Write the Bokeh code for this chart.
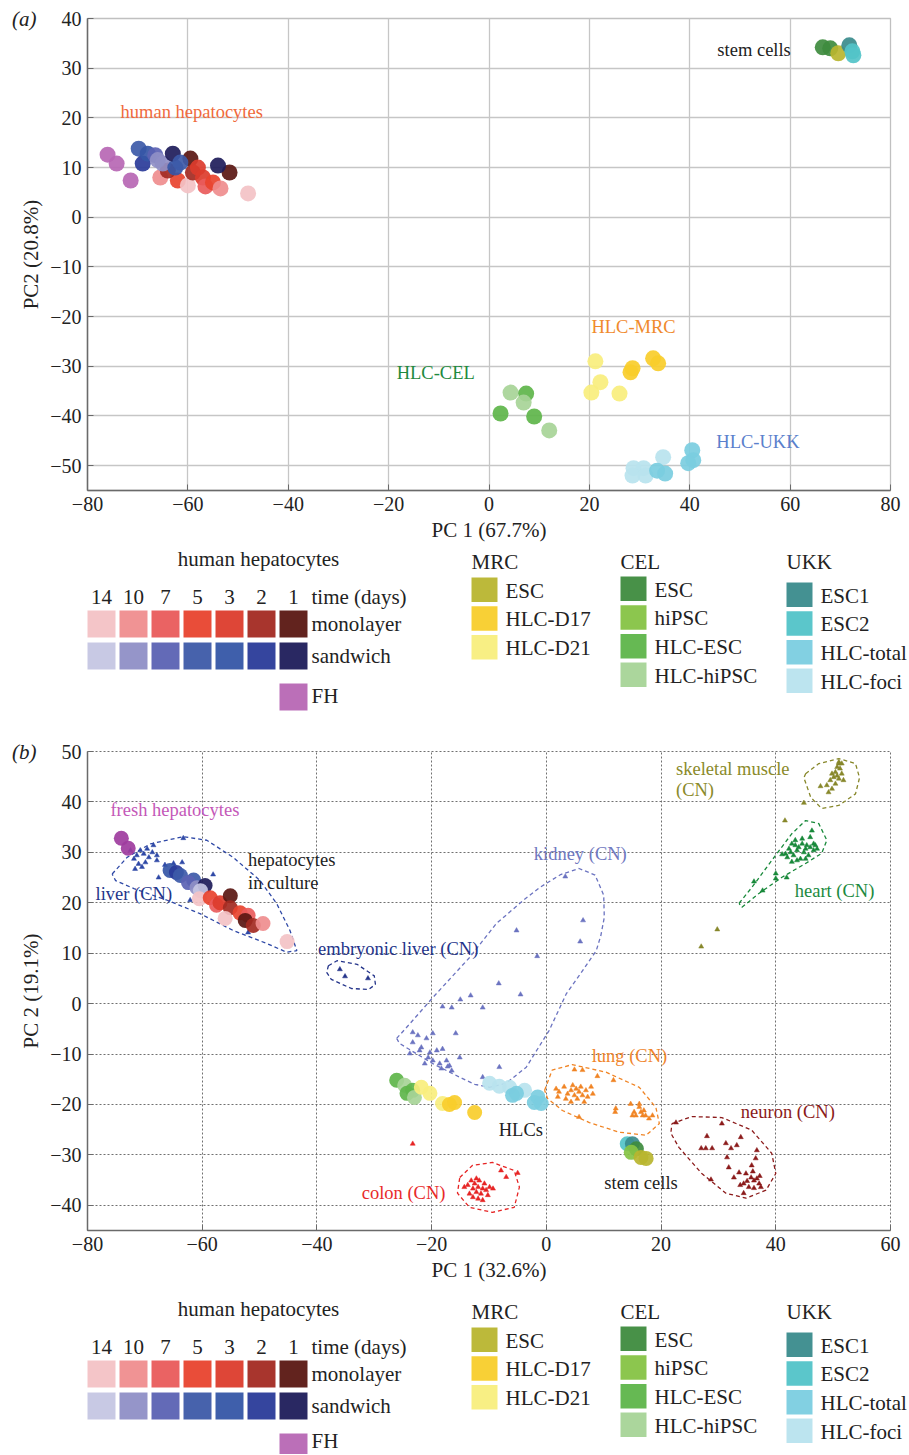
from bokeh.plotting import figure
from bokeh.models import (Range1d, FixedTicker, ColumnDataSource, CustomJSTickFormatter,
                          LinearAxis, Plot)
from bokeh.layouts import column
from bokeh.embed import file_html
from bokeh.resources import INLINE
from bokeh.core.properties import value

FONT = "Liberation Serif"
W = 909
BL, BR = 87, 19          # left / right borders of the two scatter panels

# ---------------- categories / legend ----------------
HEP_DAYS = ["14", "10", "7", "5", "3", "2", "1"]
HEP_ROWS = ["monolayer", "sandwich"]
MRC_GROUP = ["ESC", "HLC-D17", "HLC-D21"]
CEL_GROUP = ["ESC", "hiPSC", "HLC-ESC", "HLC-hiPSC"]
UKK_GROUP = ["ESC1", "ESC2", "HLC-total", "HLC-foci"]

MONO_COLORS = ["#f3c2c5", "#ef8d8e", "#e95b5b", "#e8432e", "#dc3c2c", "#a32a22", "#5a1712"]
SAND_COLORS = ["#c5c6e3", "#8f8fc6", "#5b62b3", "#3d5aa8", "#3556a6", "#2a3b99", "#1e1c5a"]
FH_COLOR = "#b767b4"
FH_B_COLOR = "#9e3c9e"
MRC_COLORS = ["#b8b52f", "#f8cd2b", "#f8ee7d"]
CEL_COLORS = ["#3e8b3e", "#86c344", "#5eb54a", "#a7d497"]
UKK_COLORS = ["#3a8b8c", "#52c3c8", "#7bcde0", "#b8e3ee"]

COLOR = {"FH": FH_COLOR, "FHb": FH_B_COLOR}
for d, c in zip(HEP_DAYS, MONO_COLORS):
    COLOR["M" + d] = c
for d, c in zip(HEP_DAYS, SAND_COLORS):
    COLOR["S" + d] = c
for n, c in zip(MRC_GROUP, MRC_COLORS):
    COLOR["MRC " + n] = c
for n, c in zip(CEL_GROUP, CEL_COLORS):
    COLOR["CEL " + n] = c
for n, c in zip(UKK_GROUP, UKK_COLORS):
    COLOR["UKK " + n] = c

# ---------------- panel (a) data ----------------
A_HEPATOCYTES = [
    (-76.0, 12.6, "FH"), (-74.2, 10.8, "FH"), (-71.4, 7.4, "FH"),
    (-65.5, 8.0, "M10"), (-62.0, 7.4, "M5"), (-60.0, 6.4, "M14"), (-64.0, 9.4, "M2"),
    (-69.8, 13.8, "S5"), (-69.0, 10.8, "S2"), (-68.0, 12.8, "S3"), (-66.5, 12.5, "S7"),
    (-66.0, 11.5, "S10"), (-65.0, 10.8, "S10"), (-62.5, 10.0, "S3"),
    (-59.5, 11.8, "M1"), (-59.0, 9.0, "M2"), (-58.0, 10.0, "M3"), (-57.0, 8.0, "M3"),
    (-56.5, 6.2, "M7"), (-55.0, 7.0, "M5"), (-53.5, 5.8, "M10"), (-51.7, 9.0, "M1"),
    (-48.0, 4.8, "M14"), (-63.0, 12.8, "S1"), (-61.5, 11.0, "S5"), (-54.0, 10.4, "S1"),
]
A_STEM = [
    (66.5, 34.2, "CEL ESC"), (68.0, 34.0, "CEL ESC"), (69.6, 33.0, "MRC ESC"),
    (71.8, 34.6, "UKK ESC1"), (72.4, 33.4, "UKK ESC2"), (72.6, 32.6, "UKK ESC2"),
]
A_HLC = [
    (4.3, -35.3, "CEL HLC-hiPSC"), (7.4, -35.5, "CEL HLC-ESC"), (6.9, -37.3, "CEL HLC-hiPSC"),
    (2.3, -39.5, "CEL HLC-ESC"), (9.0, -40.1, "CEL HLC-ESC"), (12.0, -42.9, "CEL HLC-hiPSC"),
    (21.2, -29.0, "MRC HLC-D21"), (22.2, -33.2, "MRC HLC-D21"), (20.4, -35.3, "MRC HLC-D21"),
    (26.0, -35.5, "MRC HLC-D21"), (28.2, -31.2, "MRC HLC-D17"), (28.6, -30.4, "MRC HLC-D17"),
    (32.7, -28.4, "MRC HLC-D17"), (33.7, -29.4, "MRC HLC-D17"),
    (28.8, -50.5, "UKK HLC-foci"), (30.8, -50.5, "UKK HLC-foci"), (28.6, -52.0, "UKK HLC-foci"),
    (31.2, -52.0, "UKK HLC-foci"), (34.7, -48.3, "UKK HLC-foci"), (33.5, -51.0, "UKK HLC-total"),
    (35.1, -51.6, "UKK HLC-total"), (40.5, -46.9, "UKK HLC-total"), (40.7, -48.9, "UKK HLC-total"),
    (39.7, -49.5, "UKK HLC-total"),
]
A_LABELS = ["human hepatocytes", "stem cells", "HLC-MRC", "HLC-CEL", "HLC-UKK"]
A_LABEL_POS = [(-73.4, 21.1), (45.5, 33.6), (20.4, -22.0), (-18.4, -31.4), (45.3, -45.3)]
A_LABEL_COLORS = ["#f06a3c", "#222222", "#f08a2c", "#1e8a3e", "#5a80cc"]

# ---------------- panel (b) data ----------------
B_HEPATOCYTES = [
    (-74.1, 32.8, "FHb"), (-72.9, 30.8, "FHb"),
    (-65.6, 26.4, "S3"), (-64.5, 26.0, "S2"), (-63.8, 25.4, "S5"), (-61.5, 24.5, "S5"),
    (-62.4, 24.0, "S7"), (-60.9, 23.0, "S10"), (-59.5, 23.4, "S1"), (-60.3, 22.4, "S14"),
    (-60.5, 20.8, "M14"), (-58.6, 21.0, "M5"), (-57.5, 19.5, "M7"), (-56.9, 20.0, "M3"),
    (-55.1, 21.4, "M1"), (-55.1, 19.0, "M2"), (-56.0, 16.9, "M14"), (-53.4, 18.0, "M5"),
    (-52.0, 17.5, "M7"), (-52.5, 16.5, "M1"), (-51.1, 15.5, "M2"), (-49.4, 15.9, "M10"),
    (-45.2, 12.3, "M14"),
]
B_HLC = [
    (-26.1, -15.2, "CEL HLC-ESC"), (-24.7, -16.2, "CEL HLC-hiPSC"), (-24.3, -17.8, "CEL HLC-ESC"),
    (-23.3, -17.2, "CEL HLC-ESC"), (-23.0, -18.6, "CEL HLC-hiPSC"),
    (-21.8, -16.6, "MRC HLC-D21"), (-20.3, -17.8, "MRC HLC-D21"), (-18.1, -19.8, "MRC HLC-D21"),
    (-16.9, -20.0, "MRC HLC-D17"), (-16.0, -19.6, "MRC HLC-D17"), (-12.5, -21.6, "MRC HLC-D17"),
    (-9.9, -15.8, "UKK HLC-foci"), (-8.2, -16.4, "UKK HLC-foci"), (-6.4, -16.6, "UKK HLC-foci"),
    (-3.8, -17.2, "UKK HLC-foci"), (-5.9, -18.2, "UKK HLC-total"), (-5.2, -17.8, "UKK HLC-total"),
    (-2.1, -19.6, "UKK HLC-total"), (-1.5, -18.5, "UKK HLC-total"), (-0.9, -19.8, "UKK HLC-total"),
]
B_STEM = [
    (14.1, -27.8, "UKK ESC2"), (15.0, -27.8, "UKK ESC1"), (15.7, -28.8, "CEL ESC"),
    (14.8, -29.5, "CEL hiPSC"), (16.5, -30.5, "MRC ESC"), (17.4, -30.7, "MRC ESC"),
]

# CN tissue samples (small triangles)
LIVER_CN = [(-71.4, 29.4), (-70.8, 30.4), (-70.2, 29.7), (-69.6, 30.7), (-69.3, 29.0), (-71.9, 28.7),
            (-71.1, 27.7), (-69.9, 28.0), (-68.7, 30.0), (-67.9, 29.4), (-68.5, 31.4), (-70.5, 27.1),
            (-71.7, 26.7), (-72.5, 30.4), (-67.9, 28.4), (-63.3, 32.8), (-63.5, 28.0), (-58.1, 25.6),
            (-52.0, 14.1), (-62.1, 20.5), (-67.6, 25.0), (-66.5, 27.5), (-65.0, 27.8)]
EMBRYONIC_LIVER_CN = [(-36.0, 6.8), (-35.1, 5.4), (-31.1, 5.0)]
KIDNEY_CN = [(3.3, 25.2), (6.4, 16.5), (5.9, 12.3), (-5.2, 14.5), (-1.6, 9.4), (-8.3, 4.0),
             (-13.2, 1.6), (-4.5, 1.8), (-15.0, 0.8), (-11.1, -0.8), (-16.5, -0.8), (-18.1, -0.6),
             (-15.8, -5.9), (-8.2, -12.6), (-11.1, -14.6), (-15.1, -10.7), (-18.1, -9.0),
             (-16.9, -12.3), (-17.4, -11.3), (-23.3, -5.7), (-22.4, -6.3), (-20.9, -6.9),
             (-19.8, -5.9), (-23.3, -7.7), (-21.8, -8.7), (-20.3, -9.7), (-19.1, -9.3),
             (-20.6, -10.7), (-19.8, -11.3), (-18.6, -11.9), (-17.2, -12.5), (-16.5, -13.3),
             (-18.3, -12.9), (-23.8, -9.9), (-21.2, -11.9), (-22.1, -9.3)]
LUNG_CN = [(1.7, -16.9), (2.2, -17.5), (3.1, -16.5), (3.7, -17.9), (4.3, -17.2), (4.6, -16.2),
           (4.9, -18.2), (5.2, -16.9), (5.4, -18.9), (5.7, -17.5), (6.0, -16.5), (6.3, -18.2),
           (6.6, -19.5), (6.9, -17.2), (7.2, -18.5), (7.8, -16.5), (8.1, -17.9), (3.4, -18.9),
           (4.3, -19.5), (2.0, -18.5), (5.7, -22.5), (4.9, -13.1), (6.3, -13.2), (8.9, -14.4),
           (11.7, -15.2), (12.1, -20.8), (12.0, -21.5), (14.7, -19.9), (15.3, -21.5),
           (15.6, -22.2), (16.2, -20.5), (16.5, -21.5), (16.8, -22.2), (17.0, -21.2),
           (17.3, -22.2), (17.9, -22.8), (15.0, -22.2), (16.2, -19.9), (18.5, -22.2)]
COLON_CN = [(-13.7, -36.0), (-13.1, -35.1), (-12.8, -36.7), (-12.5, -35.7), (-12.2, -37.4),
            (-11.9, -36.4), (-11.7, -35.1), (-11.4, -37.7), (-11.1, -36.7), (-10.8, -35.7),
            (-10.5, -37.0), (-10.2, -38.0), (-9.9, -36.4), (-9.3, -36.7), (-13.4, -37.7),
            (-12.8, -38.4), (-11.9, -38.7), (-11.1, -39.0), (-12.2, -34.7), (-14.3, -36.4),
            (-7.9, -33.1), (-7.0, -34.4), (-5.0, -33.6), (-23.3, -27.8)]
NEURON_CN = [(22.6, -23.6), (28.0, -26.3), (30.6, -23.8), (27.0, -28.7), (27.8, -28.7), (28.9, -28.7),
             (31.3, -27.7), (33.2, -28.1), (33.9, -26.5), (32.2, -28.7), (28.7, -34.9), (31.5, -30.5),
             (36.7, -29.1), (36.5, -30.7), (35.8, -32.1), (31.8, -32.5), (32.7, -34.5), (34.4, -35.7),
             (36.2, -35.1), (37.1, -35.7), (37.4, -36.4), (35.3, -36.4), (34.4, -37.6), (36.2, -36.6),
             (33.6, -33.5), (34.8, -33.7), (35.7, -34.5), (36.7, -34.7), (35.0, -35.2), (33.8, -36.0),
             (36.0, -33.3), (37.2, -34.2)]
HEART_CN = [(41.7, 29.7), (42.3, 30.7), (42.8, 31.7), (43.1, 29.4), (43.4, 32.4), (43.7, 30.4),
            (44.0, 31.0), (44.3, 28.7), (44.6, 31.7), (44.9, 30.0), (45.2, 30.7), (45.4, 31.4),
            (45.7, 29.4), (46.0, 31.0), (46.3, 34.3), (46.6, 31.7), (46.9, 31.4), (47.2, 30.7),
            (42.8, 28.1), (43.7, 28.4), (42.0, 29.0), (45.2, 28.7), (46.0, 33.0), (46.6, 30.4),
            (44.6, 32.7), (43.4, 31.4), (42.6, 30.0), (41.1, 29.6), (36.2, 24.2), (37.7, 22.4),
            (40.0, 25.8), (40.0, 24.8), (41.9, 25.0)]
SKELETAL_MUSCLE_CN = [(51.0, 47.6), (50.7, 46.9), (51.2, 46.6), (50.4, 45.9), (51.5, 45.6), (50.1, 44.9),
                      (51.0, 44.6), (49.5, 44.3), (51.8, 44.3), (50.4, 43.6), (48.9, 43.3), (49.8, 42.6),
                      (49.2, 41.9), (47.8, 43.1), (51.0, 47.9), (51.5, 47.6), (50.7, 45.2), (49.8, 45.6),
                      (44.9, 39.8), (41.6, 36.3), (29.8, 14.7), (27.0, 11.3)]

# dashed outlines drawn around each CN tissue group (vertices)
LIVER_HULL = [(-75.7, 25.7), (-73.1, 29.0), (-69.0, 31.7), (-63.3, 33.1), (-59.2, 32.4), (-54.6, 29.0),
              (-49.9, 24.4), (-47.0, 19.8), (-44.7, 14.5), (-43.5, 10.5), (-45.3, 10.2), (-48.7, 11.9),
              (-54.6, 14.5), (-60.3, 17.8), (-66.1, 20.5), (-71.9, 22.8), (-75.1, 24.4)]
EMBRYONIC_HULL = [(-38.0, 7.5), (-36.5, 8.5), (-33.0, 7.8), (-30.0, 5.5), (-29.8, 3.8), (-31.0, 2.8),
                  (-34.0, 3.0), (-37.5, 4.8), (-38.3, 6.2)]
KIDNEY_HULL = [(-26.1, -6.9), (-23.8, -4.0), (-19.8, 1.2), (-13.5, 9.0), (-8.7, 15.9), (-4.0, 20.5),
               (-1.2, 23.0), (2.5, 25.6), (5.7, 26.8), (8.5, 25.5), (10.0, 21.5), (10.1, 17.1),
               (9.5, 13.5), (8.7, 10.5), (6.0, 6.0), (3.5, 2.0), (0.5, -5.3), (-3.5, -12.6),
               (-7.0, -15.8), (-9.9, -16.6), (-12.5, -16.0), (-15.1, -14.6), (-19.8, -11.9),
               (-25.6, -7.9)]
LUNG_HULL = [(-0.3, -17.2), (1.0, -13.2), (4.5, -12.1), (10.4, -13.6), (16.2, -16.6), (19.1, -20.6),
             (19.7, -23.8), (17.4, -26.1), (12.7, -25.5), (7.5, -23.6), (2.8, -21.2), (0.2, -18.8)]
COLON_HULL = [(-15.1, -34.5), (-12.9, -32.1), (-9.4, -31.5), (-5.6, -33.1), (-4.7, -36.4),
              (-5.6, -40.4), (-9.4, -41.4), (-13.4, -40.4), (-15.5, -37.6)]
NEURON_HULL = [(21.9, -23.8), (25.4, -22.4), (30.6, -22.6), (35.8, -25.1), (39.3, -29.7), (40.0, -33.7),
               (38.3, -37.0), (34.8, -38.6), (31.3, -37.6), (27.1, -33.7), (23.1, -28.5), (21.7, -25.7)]
HEART_HULL = [(33.6, 19.9), (35.8, 23.0), (39.3, 28.4), (42.8, 33.7), (45.2, 36.3), (47.5, 35.7),
              (48.9, 32.4), (48.0, 29.8), (45.2, 27.8), (41.0, 25.0), (37.0, 21.8), (34.1, 19.1)]
SKELETAL_HULL = [(45.2, 45.6), (47.5, 47.6), (51.0, 48.6), (53.9, 47.6), (54.6, 44.8), (53.9, 41.6),
                 (51.0, 39.3), (48.0, 38.7), (46.1, 40.9), (44.9, 44.8)]

B_LABELS = ["fresh hepatocytes", "liver (CN)", "hepatocytes", "in culture", "embryonic liver (CN)",
            "kidney (CN)", "skeletal muscle", "(CN)", "heart (CN)", "lung (CN)", "neuron (CN)",
            "colon (CN)", "HLCs", "stem cells"]
B_LABEL_POS = [(-76.0, 38.3), (-78.6, 21.8), (-52.0, 28.4), (-52.0, 23.9), (-39.8, 10.9),
               (-2.2, 29.7), (22.6, 46.6), (22.6, 42.3), (43.3, 22.3), (7.9, -10.3), (33.9, -21.5),
               (-32.2, -37.6), (-8.3, -25.0), (10.1, -35.6)]
B_LABEL_COLORS = ["#c458b8", "#24348a", "#222222", "#222222", "#24348a", "#7078c0", "#8a8a2a",
                  "#8a8a2a", "#1b8a3e", "#f0842a", "#8b1a1a", "#e82a2a", "#222222", "#222222"]

TISSUES = [
    (LIVER_CN, LIVER_HULL, "#2e48a6"),
    (EMBRYONIC_LIVER_CN, EMBRYONIC_HULL, "#24348a"),
    (KIDNEY_CN, KIDNEY_HULL, "#6b73c0"),
    (LUNG_CN, LUNG_HULL, "#f08424"),
    (COLON_CN, COLON_HULL, "#e62424"),
    (NEURON_CN, NEURON_HULL, "#8b1a1a"),
    (HEART_CN, HEART_HULL, "#18893a"),
    (SKELETAL_MUSCLE_CN, SKELETAL_HULL, "#87872a"),
]

HAS_FRAME_ALIGN = hasattr(Plot, "frame_align")


def minus_fmt():
    return CustomJSTickFormatter(code="return tick < 0 ? '\\u2212' + (-tick) : String(tick);")


def style_axes(p, xt, yt, dotted):
    p.xaxis.ticker = FixedTicker(ticks=xt)
    p.yaxis.ticker = FixedTicker(ticks=yt)
    p.xgrid.ticker = FixedTicker(ticks=xt)
    p.ygrid.ticker = FixedTicker(ticks=yt)
    p.xaxis.formatter = minus_fmt()
    p.yaxis.formatter = minus_fmt()
    p.axis.major_label_text_font = FONT
    p.axis.major_label_text_font_size = "20px"
    p.axis.major_label_text_color = "#222222"
    p.axis.axis_label_text_font = FONT
    p.axis.axis_label_text_font_size = "21px"
    p.axis.axis_label_text_font_style = "normal"
    p.axis.axis_label_text_color = "#222222"
    p.axis.axis_line_color = "#6a6a6a"
    p.axis.axis_line_width = 1.5
    p.axis.major_tick_in = 6
    p.axis.major_tick_out = 0
    p.axis.major_tick_line_color = "#6a6a6a"
    p.axis.minor_tick_line_color = None
    p.axis.major_label_standoff = 6
    p.axis.axis_label_standoff = 4
    if dotted:
        p.grid.grid_line_color = "#707070"
        p.grid.grid_line_dash = "2 2"
        p.grid.grid_line_width = 1
        p.outline_line_color = "#707070"
        p.outline_line_dash = "2 2"
    else:
        p.grid.grid_line_color = "#c6c6c6"
        p.grid.grid_line_width = 1.3
        p.outline_line_color = "#c0c0c0"
        p.outline_line_width = 1.3


def panel_tag(p, letter, ytop):
    # an outer, line-less left axis whose single tick label is the panel letter
    ax = LinearAxis(ticker=FixedTicker(ticks=[ytop]),
                    formatter=CustomJSTickFormatter(code="return '(%s)';" % letter),
                    axis_line_color=None, major_tick_line_color=None, minor_tick_line_color=None,
                    major_tick_in=0, major_tick_out=0, major_label_standoff=-20,
                    major_label_text_font=FONT, major_label_text_font_size="21px",
                    major_label_text_font_style="italic", major_label_text_color="#222222")
    p.add_layout(ax, "left")


def circles(p, pts, size):
    src = ColumnDataSource(dict(x=[a[0] for a in pts], y=[a[1] for a in pts],
                                c=[COLOR[a[2]] for a in pts]))
    p.scatter("x", "y", source=src, marker="circle", size=size, fill_color="c",
              line_color=None, fill_alpha=0.92)


def labels(p, names, pos, colors):
    src = ColumnDataSource(dict(x=[a[0] for a in pos], y=[a[1] for a in pos], t=names, c=colors))
    p.text("x", "y", text="t", source=src, text_color="c", text_font=value(FONT),
           text_font_size="18.5px", text_baseline="middle", text_align="left")


# ---------------- panel (a) ----------------
pa = figure(width=W, height=545, x_range=Range1d(-80, 80), y_range=Range1d(-55, 40),
            output_backend="svg", toolbar_location=None,
            min_border_left=BL, min_border_right=BR, min_border_top=18, min_border_bottom=55,
            x_axis_label="PC 1 (67.7%)", y_axis_label="PC2 (20.8%)")
style_axes(pa, list(range(-80, 81, 20)), list(range(-50, 41, 10)), dotted=False)
circles(pa, A_HEPATOCYTES, 16)
circles(pa, A_STEM, 16)
circles(pa, A_HLC, 16)
labels(pa, A_LABELS, A_LABEL_POS, A_LABEL_COLORS)
panel_tag(pa, "a", 40)

# ---------------- panel (b) ----------------
pb = figure(width=W, height=570, x_range=Range1d(-80, 60), y_range=Range1d(-45, 50),
            output_backend="svg", toolbar_location=None,
            min_border_left=BL, min_border_right=BR, min_border_top=31, min_border_bottom=60,
            x_axis_label="PC 1 (32.6%)", y_axis_label="PC 2 (19.1%)")
style_axes(pb, list(range(-80, 61, 20)), list(range(-40, 51, 10)), dotted=True)
for pts, hull, col in TISSUES:
    hx = [h[0] for h in hull] + [hull[0][0]]
    hy = [h[1] for h in hull] + [hull[0][1]]
    pb.line(hx, hy, line_color=col, line_dash="4 3", line_width=1.3)
for pts, hull, col in TISSUES:
    pb.scatter([q[0] for q in pts], [q[1] for q in pts], marker="triangle", size=5,
               fill_color=col, line_color=col, line_width=0.5)
circles(pb, B_HLC, 15)
circles(pb, B_STEM, 15)
circles(pb, B_HEPATOCYTES, 15)
labels(pb, B_LABELS, B_LABEL_POS, B_LABEL_COLORS)
panel_tag(pb, "b", 50)


# ---------------- legends ----------------
def legend_fig(height, dy):
    # x range in page pixels, y range in pixels from the figure top
    if HAS_FRAME_ALIGN:
        extra = dict(frame_align=False, min_border_left=0, min_border_right=0)
        xr = Range1d(0, W)
    else:
        extra = dict(min_border_left=BL, min_border_right=BR)
        xr = Range1d(BL, W - BR)
    p = figure(width=W, height=height, x_range=xr, y_range=Range1d(height, 0),
               output_backend="svg", toolbar_location=None, x_axis_location=None,
               y_axis_location=None, min_border_top=0, min_border_bottom=0,
               outline_line_color=None, **extra)
    p.xgrid.visible = False
    p.ygrid.visible = False
    L, R, T, B, C = [], [], [], [], []
    for r, cols in enumerate([MONO_COLORS, SAND_COLORS]):
        for i, c in enumerate(cols):
            L.append(87 + 32 * i); R.append(87 + 32 * i + 28)
            T.append(65 + 32 * r + dy); B.append(92 + 32 * r + dy); C.append(c)
    L.append(87 + 32 * 6); R.append(87 + 32 * 6 + 28)
    T.append(138 + dy); B.append(165 + dy); C.append(FH_COLOR)
    cx, cy, ct = [], [], []
    for i, d in enumerate(HEP_DAYS):
        cx.append(87 + 32 * i + 14); cy.append(51 + dy); ct.append(d)
    cx.append(258); cy.append(13 + dy); ct.append("human hepatocytes")
    lx = [311, 311, 311, 311]
    ly = [51 + dy, 78 + dy, 110 + dy, 150]
    lt = ["time (days)", HEP_ROWS[0], HEP_ROWS[1], "FH"]
    groups = [("MRC", MRC_GROUP, MRC_COLORS, 471, 32), ("CEL", CEL_GROUP, CEL_COLORS, 620, 31),
              ("UKK", UKK_GROUP, UKK_COLORS, 786, 37)]
    for title, names, cols, x0, top in groups:
        lx.append(x0); ly.append(16 + dy); lt.append(title)
        for j, (n, c) in enumerate(zip(names, cols)):
            t0 = top + 28.7 * j + dy
            L.append(x0); R.append(x0 + 26); T.append(t0); B.append(t0 + 24.5); C.append(c)
            lx.append(x0 + 34); ly.append(t0 + 13); lt.append(n)
    p.quad(left=L, right=R, top=T, bottom=B, fill_color=C, line_color=None, fill_alpha=0.95)
    for xs, ys, ts, al in [(cx, cy, ct, "center"), (lx, ly, lt, "left")]:
        src = ColumnDataSource(dict(x=xs, y=ys, t=ts))
        p.text("x", "y", text="t", source=src, text_align=al, text_baseline="middle",
               text_font=value(FONT), text_font_size="21px", text_color="#222222")
    return p


la = legend_fig(175, 0)
lb = legend_fig(164, 5)

layout = column(pa, la, pb, lb, spacing=0)
open("out.html", "w").write(file_html(layout, INLINE))
